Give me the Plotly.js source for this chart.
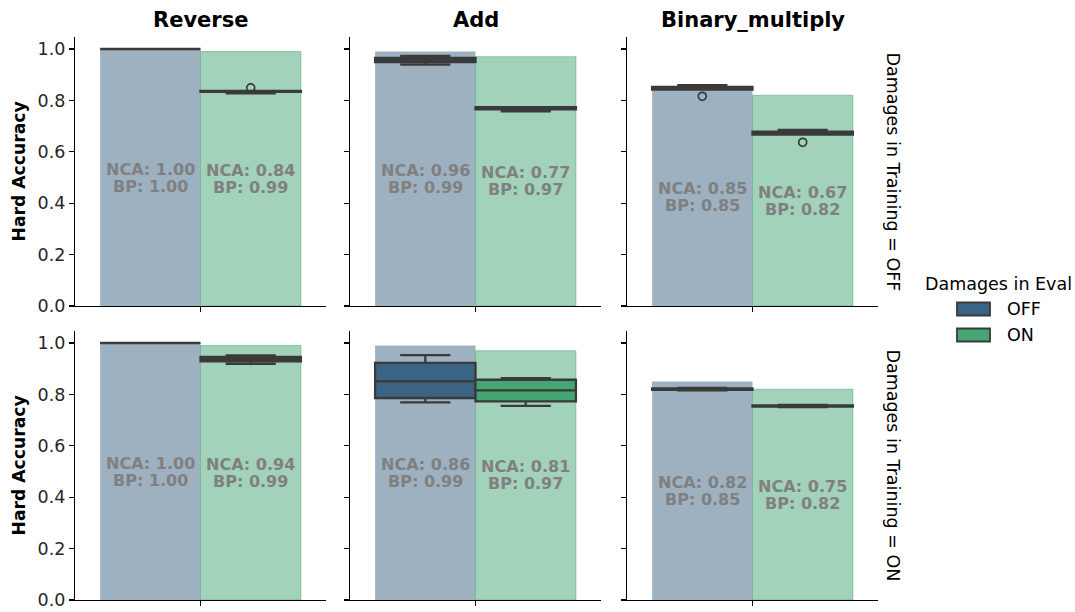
<!DOCTYPE html>
<html>
<head>
<meta charset="utf-8">
<script src="https://cdn.plot.ly/plotly-3.0.1.min.js"></script>
<style>html,body{margin:0;padding:0;background:#fff;} #chart{width:1075px;height:612px;}</style>
</head>
<body>
<div id="chart"></div>
<script>
// ---- data ----
const tasks = ['Reverse', 'Add', 'Binary_multiply'];
const trainLevels = ['OFF', 'ON'];
const evalLevels = ['OFF', 'ON'];
// indexed [train][task][eval]
const bpValues = [
  [[1.00, 0.99], [0.99, 0.97], [0.85, 0.82]],
  [[1.00, 0.99], [0.99, 0.97], [0.85, 0.82]]
];
const ncaMean = [
  [[1.00, 0.84], [0.96, 0.77], [0.85, 0.67]],
  [[1.00, 0.94], [0.86, 0.81], [0.82, 0.75]]
];
const ncaLow = [
  [[1.000, 0.827], [0.939, 0.757], [0.842, 0.667]],
  [[1.000, 0.919], [0.769, 0.755], [0.816, 0.751]]
];
const ncaQ1 = [
  [[1.000, 0.833], [0.949, 0.765], [0.842, 0.667]],
  [[1.000, 0.929], [0.786, 0.773], [0.818, 0.753]]
];
const ncaMedian = [
  [[1.000, 0.835], [0.958, 0.770], [0.848, 0.673]],
  [[1.000, 0.937], [0.851, 0.816], [0.820, 0.755]]
];
const ncaQ3 = [
  [[1.000, 0.837], [0.965, 0.774], [0.853, 0.678]],
  [[1.000, 0.946], [0.923, 0.857], [0.823, 0.757]]
];
const ncaHigh = [
  [[1.000, 0.837], [0.973, 0.774], [0.859, 0.685]],
  [[1.000, 0.952], [0.953, 0.863], [0.825, 0.759]]
];
const ncaOutliers = [
  [[[], [0.849]], [[], []], [[0.816], [0.637]]],
  [[[], []], [[], []], [[], []]]
];

// ---- styling ----
const boxFill = ['#3b6384', '#45a674'];
const barFill = ['rgba(59,99,132,0.5)', 'rgba(69,166,116,0.5)'];
const barEdgeW = [0, 1];
const edge = '#3a3a3a';
const xpos = [-0.2, 0.2];
const W = 1075, H = 612;
const colDom = [[75, 326], [350, 601], [627, 878]];
const rowDom = [[37, 306], [331, 600]];
const FONT = 'DejaVu Sans';

const traces = [];
const annotations = [];
const shapes = [];
const layout = {
  width: W, height: H,
  margin: {l: 0, r: 0, t: 0, b: 0},
  paper_bgcolor: '#fff', plot_bgcolor: '#fff',
  showlegend: false,
  barmode: 'overlay',
  font: {family: FONT, size: 17, color: '#262626'}
};

for (let r = 0; r < trainLevels.length; r++) {
  for (let c = 0; c < tasks.length; c++) {
    const idx = r * 3 + c + 1;
    const xa = 'x' + (idx > 1 ? idx : '');
    const ya = 'y' + (idx > 1 ? idx : '');
    const xk = 'xaxis' + (idx > 1 ? idx : '');
    const yk = 'yaxis' + (idx > 1 ? idx : '');
    layout[xk] = {
      domain: [colDom[c][0] / W, colDom[c][1] / W],
      range: [-0.5, 0.5], fixedrange: true,
      showgrid: false, zeroline: false,
      showline: true, linecolor: '#000', linewidth: 1.1,
      ticks: 'outside', ticklen: 5, tickcolor: '#000', tickwidth: 1.1,
      tickvals: [0], ticktext: [''],
      anchor: ya
    };
    layout[yk] = {
      domain: [1 - rowDom[r][1] / H, 1 - rowDom[r][0] / H],
      range: [0, 1.0467], fixedrange: true,
      showgrid: false, zeroline: false,
      showline: true, linecolor: '#000', linewidth: 1.1,
      ticks: 'outside', ticklen: 5, tickcolor: '#000', tickwidth: 1.1,
      tickvals: [0, 0.2, 0.4, 0.6, 0.8, 1.0], tickformat: '.1f',
      showticklabels: c === 0,
      tickfont: {family: FONT, size: 17.5, color: '#262626'},
      anchor: xa
    };
    // bars (BP)
    for (let e = 0; e < evalLevels.length; e++) {
      traces.push({
        type: 'bar', x: [xpos[e]], y: [bpValues[r][c][e]], width: [0.4],
        marker: {color: barFill[e], line: {color: barFill[e], width: barEdgeW[e]}},
        xaxis: xa, yaxis: ya, hoverinfo: 'skip'
      });
    }
    // boxes (NCA)
    for (let e = 0; e < evalLevels.length; e++) {
      traces.push({
        type: 'box', x: [xpos[e]],
        q1: [ncaQ1[r][c][e]], median: [ncaMedian[r][c][e]], q3: [ncaQ3[r][c][e]],
        lowerfence: [ncaLow[r][c][e]], upperfence: [ncaHigh[r][c][e]],
        width: 0.4, whiskerwidth: 0.5, boxpoints: false,
        fillcolor: boxFill[e], line: {color: edge, width: 2.3},
        xaxis: xa, yaxis: ya, hoverinfo: 'skip'
      });
      const outs = ncaOutliers[r][c][e];
      if (outs.length) {
        traces.push({
          type: 'scatter', mode: 'markers',
          x: outs.map(() => xpos[e]), y: outs,
          marker: {symbol: 'circle-open', size: 8, color: edge, line: {width: 1.7, color: edge}},
          xaxis: xa, yaxis: ya, hoverinfo: 'skip'
        });
      }
      const lines = ['NCA: ' + ncaMean[r][c][e].toFixed(2), 'BP: ' + bpValues[r][c][e].toFixed(2)];
      lines.forEach((t, k) => {
        annotations.push({
          xref: xa, yref: ya, x: xpos[e], y: bpValues[r][c][e] / 2,
          yshift: k === 0 ? 8.5 : -8.5,
          text: t, showarrow: false, align: 'center',
          xanchor: 'center', yanchor: 'middle',
          font: {family: FONT, size: 16, color: '#808080', weight: 'bold'}
        });
      });
    }
    if (r === 0) {
      annotations.push({
        xref: 'paper', yref: 'paper',
        x: (colDom[c][0] + colDom[c][1]) / 2 / W, y: 1 - 20 / H,
        text: tasks[c], showarrow: false, xanchor: 'center', yanchor: 'middle',
        font: {family: FONT, size: 21, color: '#000', weight: 'bold'}
      });
    }
  }
  // y title
  annotations.push({
    xref: 'paper', yref: 'paper', x: 18 / W, y: 1 - (rowDom[r][0] + rowDom[r][1]) / 2 / H,
    text: 'Hard Accuracy', textangle: -90, showarrow: false,
    xanchor: 'center', yanchor: 'middle',
    font: {family: FONT, size: 17.2, color: '#000', weight: 'bold'}
  });
  // row label
  annotations.push({
    xref: 'paper', yref: 'paper', x: 893 / W, y: 1 - (rowDom[r][0] + rowDom[r][1]) / 2 / H,
    text: 'Damages in Training = ' + trainLevels[r], textangle: 90, showarrow: false,
    xanchor: 'center', yanchor: 'middle',
    font: {family: FONT, size: 17.5, color: '#000'}
  });
}

// legend
annotations.push({
  xref: 'paper', yref: 'paper', x: 998 / W, y: 1 - 284 / H,
  text: 'Damages in Eval', showarrow: false, xanchor: 'center', yanchor: 'middle',
  font: {family: FONT, size: 17.5, color: '#000'}
});
const legY = [309, 335];
for (let e = 0; e < evalLevels.length; e++) {
  shapes.push({
    type: 'rect', xref: 'paper', yref: 'paper',
    x0: 957 / W, x1: 990 / W, y0: 1 - (legY[e] + 6.5) / H, y1: 1 - (legY[e] - 6.5) / H,
    fillcolor: boxFill[e], line: {color: edge, width: 1.8}
  });
  annotations.push({
    xref: 'paper', yref: 'paper', x: 1005 / W, y: 1 - legY[e] / H,
    text: evalLevels[e], showarrow: false, xanchor: 'left', yanchor: 'middle',
    font: {family: FONT, size: 17.5, color: '#000'}
  });
}

layout.annotations = annotations;
layout.shapes = shapes;
Plotly.newPlot('chart', traces, layout, {staticPlot: true, displayModeBar: false});
</script>
</body>
</html>
